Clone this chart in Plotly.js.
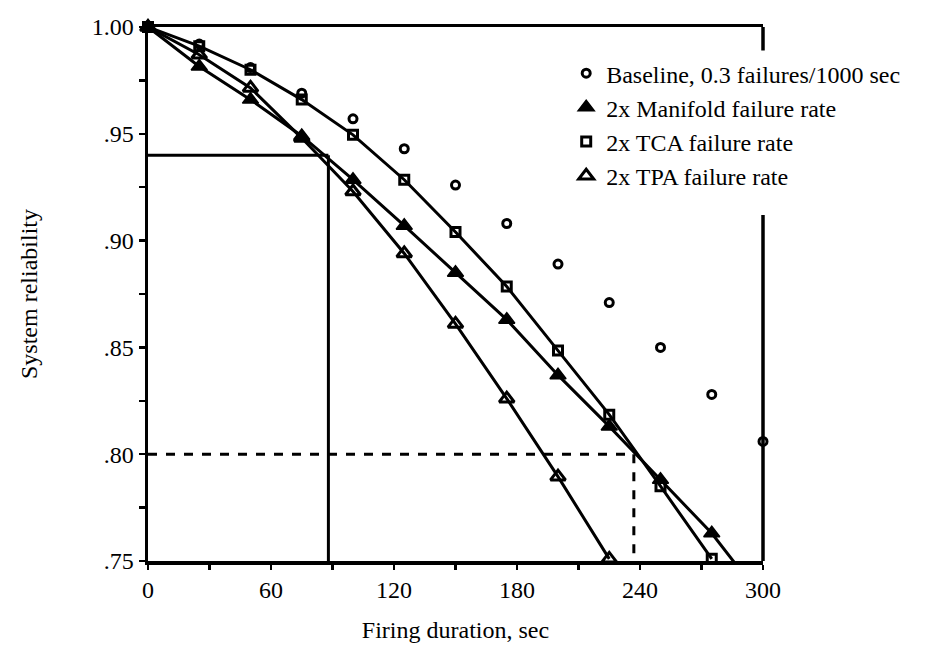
<!DOCTYPE html>
<html>
<head>
<meta charset="utf-8">
<script src="https://cdn.plot.ly/plotly-3.0.1.min.js"></script>
<style>html,body{margin:0;padding:0;background:#fff;}#chart{width:946px;height:646px;}</style>
</head>
<body>
<div id="chart"></div>
<script>
// Firing duration (sec)
const duration = [0, 25, 50, 75, 100, 125, 150, 175, 200, 225, 250, 275, 300];
// System reliability values
const baseline = [1.000, 0.992, 0.981, 0.969, 0.957, 0.943, 0.926, 0.908, 0.889, 0.871, 0.850, 0.828, 0.806];
const manifold = [1.000, 0.9815, 0.966, 0.949, 0.9285, 0.907, 0.885, 0.863, 0.837, 0.813, 0.788, 0.763, 0.732];
const tca      = [1.000, 0.991, 0.980, 0.966, 0.9495, 0.9285, 0.904, 0.8785, 0.8485, 0.8185, 0.785, 0.751];
const tpa      = [1.000, 0.987, 0.9715, 0.948, 0.923, 0.894, 0.861, 0.826, 0.7895, 0.751];
const seriesNames = ["Baseline, 0.3 failures/1000 sec", "2x Manifold failure rate", "2x TCA failure rate", "2x TPA failure rate"];
// Axis ticks
const xTickVals = [0, 30, 60, 90, 120, 150, 180, 210, 240, 270, 300];
const xTickText = ["0", "", "60", "", "120", "", "180", "", "240", "", "300"];
const yTickVals = [0.75, 0.775, 0.80, 0.825, 0.85, 0.875, 0.90, 0.925, 0.95, 0.975, 1.00];
const yTickText = [".75", "", ".80", "", ".85", "", ".90", "", ".95", "", "1.00"];
// Reference guide values
const guideSolid = {t: 88, r: 0.94};
const guideDashed = {t: 237, r: 0.80};
// Right frame edge is broken where the legend sits (reliability values)
const rightGap = {top: 0.989, bottom: 0.912};

const FONT = "Liberation Serif, Times New Roman, serif";
const black = "#000";
const yMin = 0.75, yMax = 1.0;
const toPaperY = v => (v - yMin) / (yMax - yMin);

function lineTrace(y) {
  return {x: duration.slice(0, y.length), y: y, mode: "lines", showlegend: false,
          line: {color: black, width: 3}, hoverinfo: "skip"};
}
const traces = [
  lineTrace(manifold), lineTrace(tca), lineTrace(tpa),
  {x: duration, y: baseline, mode: "markers", name: seriesNames[0], cliponaxis: false,
   marker: {symbol: "circle-open", size: 8, color: black, line: {width: 3, color: black}}},
  {x: duration.slice(0, manifold.length), y: manifold, mode: "markers", name: seriesNames[1], cliponaxis: false,
   marker: {symbol: "triangle-up", size: 14, color: black, line: {width: 1.5, color: black}}},
  {x: duration.slice(0, tca.length), y: tca, mode: "markers", name: seriesNames[2], cliponaxis: false,
   marker: {symbol: "square-open", size: 9, color: black, line: {width: 3, color: black}}},
  {x: duration.slice(0, tpa.length), y: tpa, mode: "markers", name: seriesNames[3], cliponaxis: false,
   marker: {symbol: "triangle-up-open", size: 13, color: black, line: {width: 3, color: black}}}
];

const layout = {
  width: 946, height: 646,
  margin: {l: 148, r: 183, t: 27, b: 85},
  paper_bgcolor: "#fff", plot_bgcolor: "#fff",
  font: {family: FONT, color: black, size: 24},
  showlegend: true,
  legend: {x: 0.68, y: 0.955, xanchor: "left", yanchor: "top", bgcolor: "rgba(0,0,0,0)",
           font: {family: FONT, size: 24, color: black}, itemwidth: 30, tracegroupgap: 0},
  xaxis: {range: [0, 300], tickmode: "array", tickvals: xTickVals, ticktext: xTickText,
          ticks: "outside", ticklen: 5, tickwidth: 2.5, tickcolor: black,
          showline: true, mirror: true, linewidth: 3.5, linecolor: black, showgrid: false, zeroline: false,
          tickfont: {family: FONT, size: 24},
          title: {text: "Firing duration, sec", font: {family: FONT, size: 24}, standoff: 20}},
  yaxis: {range: [yMin, yMax], tickmode: "array", tickvals: yTickVals, ticktext: yTickText,
          ticks: "outside", ticklen: 6, tickwidth: 2.5, tickcolor: black,
          showline: true, linewidth: 3.5, linecolor: black, showgrid: false, zeroline: false,
          tickfont: {family: FONT, size: 24},
          title: {text: "System reliability", font: {family: FONT, size: 24}, standoff: 48}},
  shapes: [
    {type: "line", xref: "paper", yref: "paper", x0: 1, x1: 1, y0: 1.0, y1: toPaperY(rightGap.top), line: {color: black, width: 3.5}},
    {type: "line", xref: "paper", yref: "paper", x0: 1, x1: 1, y0: toPaperY(rightGap.bottom), y1: 0, line: {color: black, width: 3.5}},
    {type: "line", xref: "x", yref: "y", x0: 0, x1: guideSolid.t, y0: guideSolid.r, y1: guideSolid.r, line: {color: black, width: 3}},
    {type: "line", xref: "x", yref: "y", x0: guideSolid.t, x1: guideSolid.t, y0: guideSolid.r, y1: 0.75, line: {color: black, width: 3}},
    {type: "line", xref: "x", yref: "y", x0: 0, x1: guideDashed.t, y0: guideDashed.r, y1: guideDashed.r, line: {color: black, width: 3, dash: "dash"}},
    {type: "line", xref: "x", yref: "y", x0: guideDashed.t, x1: guideDashed.t, y0: guideDashed.r, y1: 0.75, line: {color: black, width: 3, dash: "dash"}}
  ]
};

Plotly.newPlot("chart", traces, layout, {displayModeBar: false, staticPlot: true});
</script>
</body>
</html>
